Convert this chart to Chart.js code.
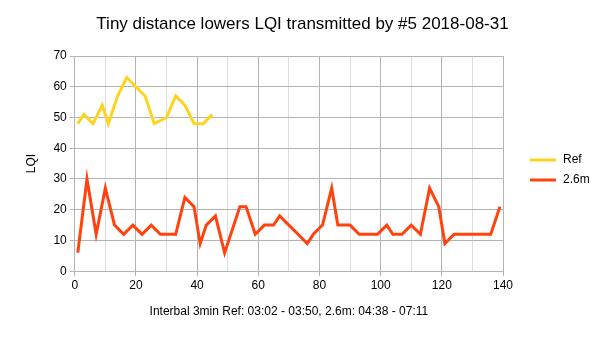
<!DOCTYPE html>
<html>
<head>
<meta charset="utf-8">
<script src="https://cdn.jsdelivr.net/npm/chart.js@4"></script>
<style>
  html, body { margin: 0; padding: 0; background: #fff; }
  #wrap { width: 605px; height: 340px; }
</style>
</head>
<body>
<div id="wrap"><canvas id="chart" width="605" height="340"></canvas></div>
<script>
// Ref series (x = minutes, y = LQI)
const refX = [1, 3, 6, 9, 11, 14, 17, 20, 23, 26, 30, 33, 36, 39, 42, 45];
const refY = [48, 51, 48, 54, 48, 57, 63, 60, 57, 48, 50, 57, 54, 48, 48, 51];

// 2.6m series
const farX = [1, 4, 7, 10, 13, 16, 19, 22, 25, 28, 31, 33, 36, 39, 41, 43, 46, 49, 54, 56, 59, 62, 65, 67, 70, 73, 76, 78, 81, 84, 86, 90, 93, 96, 99, 102, 104, 107, 110, 113, 116, 119, 121, 124, 127, 130, 133, 136, 139];
const farY = [6, 30, 12, 27, 15, 12, 15, 12, 15, 12, 12, 12, 24, 21, 9, 15, 18, 6, 21, 21, 12, 15, 15, 18, 15, 12, 9, 12, 15, 27, 15, 15, 12, 12, 12, 15, 12, 12, 15, 12, 27, 21, 9, 12, 12, 12, 12, 12, 21];

const seriesNames = ["Ref", "2.6m"];
const seriesColors = ["#ffd320", "#ff420e"];

const chartTitle = "Tiny distance lowers LQI transmitted by #5 2018-08-31";
const xTitle = "Interbal 3min Ref: 03:02 - 03:50, 2.6m: 04:38 - 07:11";
const yTitle = "LQI";

const toPoints = (xs, ys) => xs.map((x, i) => ({ x: x, y: ys[i] }));

// title centred on the whole page and legend at the right, like the original
const pageDecor = {
  id: "pageDecor",
  afterDraw(chart) {
    const ctx = chart.ctx;
    ctx.save();
    ctx.fillStyle = "#000";
    ctx.font = "17px 'Liberation Sans', Arial, sans-serif";
    ctx.textAlign = "center";
    ctx.textBaseline = "middle";
    ctx.fillText(chartTitle, chart.width / 2, 24);

    const x0 = chart.chartArea.right + 27;
    const y0 = 160;
    ctx.font = "12px 'Liberation Sans', Arial, sans-serif";
    ctx.textAlign = "left";
    chart.data.datasets.forEach((ds, i) => {
      const y = y0 + i * 20;
      ctx.strokeStyle = ds.borderColor;
      ctx.lineWidth = 3;
      ctx.beginPath();
      ctx.moveTo(x0, y);
      ctx.lineTo(x0 + 26, y);
      ctx.stroke();
      ctx.fillText(ds.label, x0 + 33, y);
    });
    ctx.restore();
  }
};

Chart.defaults.font.family = "'Liberation Sans', Arial, sans-serif";
Chart.defaults.color = "#000";

new Chart(document.getElementById("chart").getContext("2d"), {
  type: "line",
  data: {
    datasets: [
      {
        label: seriesNames[0],
        data: toPoints(refX, refY),
        borderColor: seriesColors[0],
        backgroundColor: seriesColors[0],
        borderWidth: 3,
        pointRadius: 0,
        tension: 0
      },
      {
        label: seriesNames[1],
        data: toPoints(farX, farY),
        borderColor: seriesColors[1],
        backgroundColor: seriesColors[1],
        borderWidth: 3,
        pointRadius: 0,
        tension: 0
      }
    ]
  },
  options: {
    responsive: false,
    animation: false,
    layout: { padding: { left: 20, right: 102, top: 56, bottom: 17 } },
    plugins: {
      legend: { display: false },
      tooltip: { enabled: false },
      title: { display: false }
    },
    scales: {
      x: {
        type: "linear",
        min: 0,
        max: 140,
        border: { color: "#b3b3b3" },
        ticks: {
          stepSize: 10,
          font: { size: 12 },
          color: "#000",
          padding: 2,
          maxRotation: 0,
          callback: (v) => (v % 20 === 0 ? v : "")
        },
        grid: {
          color: (c) => (c.tick && c.tick.value % 20 === 0 ? "#b3b3b3" : "#dddddd"),
          tickColor: (c) => (c.tick && c.tick.value % 20 === 0 ? "#b3b3b3" : "rgba(0,0,0,0)"),
          tickLength: 5
        },
        title: {
          display: true,
          text: xTitle,
          font: { size: 12 },
          color: "#000",
          padding: { top: 10 }
        }
      },
      y: {
        min: 0,
        max: 70,
        border: { color: "#b3b3b3" },
        ticks: {
          stepSize: 5,
          font: { size: 12 },
          color: "#000",
          padding: 3,
          callback: (v) => (v % 10 === 0 ? v : "")
        },
        grid: {
          color: (c) => (c.tick && c.tick.value % 10 === 0 ? "#b3b3b3" : "#dddddd"),
          tickColor: (c) => (c.tick && c.tick.value % 10 === 0 ? "#b3b3b3" : "rgba(0,0,0,0)"),
          tickLength: 5
        },
        title: {
          display: true,
          text: yTitle,
          font: { size: 12 },
          color: "#000",
          padding: { bottom: 12 }
        }
      }
    }
  },
  plugins: [pageDecor]
});
</script>
</body>
</html>
